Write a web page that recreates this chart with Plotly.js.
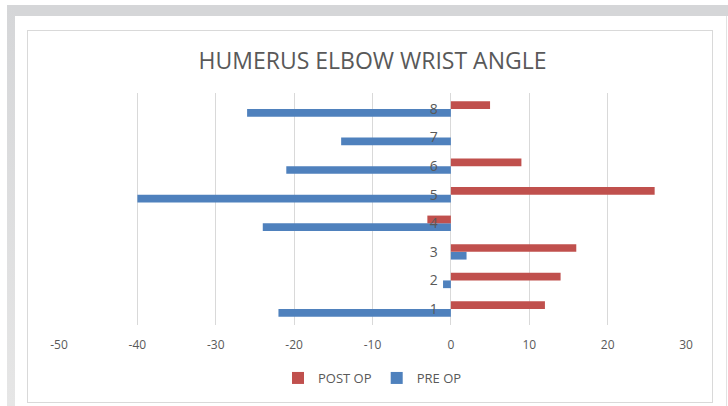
<!DOCTYPE html>
<html>
<head>
<meta charset="utf-8">
<script src="https://cdn.plot.ly/plotly-3.0.1.min.js"></script>
<style>
  html, body { margin:0; padding:0; background:#ffffff; width:728px; height:406px; overflow:hidden; }
  #topband { position:absolute; left:7px; top:5px; width:721px; height:11px; background:#d5d6d8; }
  #leftband { position:absolute; left:7px; top:5px; width:8px; height:401px; background:linear-gradient(#d5d6d8, #e6e6e6); }
  #rightline { position:absolute; left:726px; top:16px; width:1px; height:390px; background:#e2e2e2; }
  #frame { position:absolute; left:27px; top:30px; width:686px; height:373px; border:1px solid #d9d9d9; box-sizing:border-box; background:#fff; }
  #chart { position:absolute; left:0; top:0; width:684px; height:371px; }
</style>
</head>
<body>
<div id="topband"></div>
<div id="leftband"></div>
<div id="rightline"></div>
<div id="frame"><div id="chart"></div></div>
<script>
const categories = ["1", "2", "3", "4", "5", "6", "7", "8"];
const postOp = [12, 14, 16, -3, 26, 9, 0, 5];
const preOp = [-22, -1, 2, -24, -40, -21, -14, -26];
const xTicks = [-50, -40, -30, -20, -10, 0, 10, 20, 30];

const txt = '#595959';
const data = [
  { type:'bar', orientation:'h', name:'PRE OP', y:categories, x:preOp,
    marker:{ color:'#4f81bd' }, hoverinfo:'x+y' },
  { type:'bar', orientation:'h', name:'POST OP', y:categories, x:postOp,
    marker:{ color:'#c0504d' }, hoverinfo:'x+y' }
];

const layout = {
  width:684, height:371,
  margin:{ l:31, r:26, t:62, b:77 },
  paper_bgcolor:'#ffffff', plot_bgcolor:'#ffffff',
  font:{ family:'"Open Sans", Lato, sans-serif', color:txt },
  title:{ text:'HUMERUS ELBOW WRIST ANGLE', font:{ size:23, color:txt, weight:500 },
          x:0.5, xref:'paper', xanchor:'center', y:1-30/371, yref:'container', yanchor:'middle' },
  barmode:'group', bargap:0.46, bargroupgap:0,
  xaxis:{ range:[-50, 30], tickvals:xTicks, ticktext:xTicks.map(String),
          showgrid:true, gridcolor:'#d9d9d9', gridwidth:1, zeroline:false, showline:false,
          ticks:'', tickfont:{ size:12, color:txt }, ticklabelstandoff:11, fixedrange:true },
  yaxis:{ type:'category', range:[-0.56, 7.56], anchor:'free', position:0.625,
          showgrid:false, zeroline:false, showline:false, ticks:'',
          tickfont:{ size:14, color:txt }, ticklabelstandoff:13, fixedrange:true },
  showlegend:true,
  legend:{ orientation:'h', traceorder:'reversed', x:0.5, xref:'paper', xanchor:'center',
           y:1-347/371, yref:'container', yanchor:'middle', font:{ size:13, color:txt },
           itemwidth:30 }
};

Plotly.newPlot('chart', data, layout, { displayModeBar:false, staticPlot:true });
</script>
</body>
</html>
